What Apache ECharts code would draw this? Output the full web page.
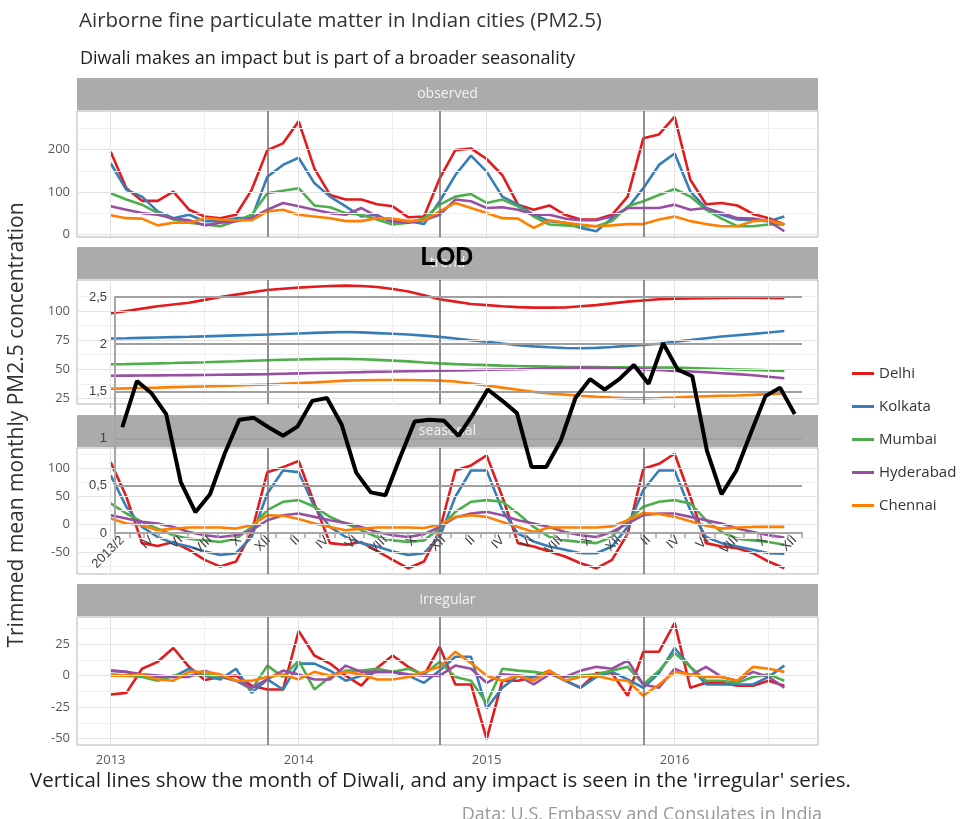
<!DOCTYPE html>
<html><head><meta charset="utf-8">
<script src="https://cdn.jsdelivr.net/npm/echarts@6/dist/echarts.min.js"></script>
<style>html,body{margin:0;padding:0;background:#fff}#c{width:970px;height:819px}</style>
</head><body><div id="c"></div>
<script>
// ---------- DATA ----------
const months = ['2013-01','2013-02','2013-03','2013-04','2013-05','2013-06','2013-07','2013-08','2013-09','2013-10','2013-11','2013-12',
'2014-01','2014-02','2014-03','2014-04','2014-05','2014-06','2014-07','2014-08','2014-09','2014-10','2014-11','2014-12',
'2015-01','2015-02','2015-03','2015-04','2015-05','2015-06','2015-07','2015-08','2015-09','2015-10','2015-11','2015-12',
'2016-01','2016-02','2016-03','2016-04','2016-05','2016-06','2016-07','2016-08'];
const cities = ['Delhi','Kolkata','Mumbai','Hyderabad','Chennai'];
const components = ['observed','trend','seasonal','irregular'];
const diwaliMonths = ['2013-11','2014-10','2015-11'];
const xTickLabels = ['2013','2014','2015','2016'];
const xMinorMonths = ['2013-07','2014-07','2015-07','2016-07'];
const yTicks = {observed:[0,100,200], trend:[25,50,75,100], seasonal:[-50,0,50,100], irregular:[-50,-25,0,25]};
const yMinor = {observed:[50,150,250], trend:[37.5,62.5,87.5,112.5], seasonal:[-75,-25,25,75,125], irregular:[-37.5,-12.5,12.5,37.5]};

const observedDelhi = [195,109,79,79,101,58,42,38,46,105,199,215,267,156,93,82,82,71,66,40,42,132,199,203,178,140,70,58,68,46,35,35,46,89,227,236,278,129,71,74,68,48,38,23];
const observedKolkata = [168,105,89,54,38,46,31,31,38,38,136,164,181,121,89,66,42,46,27,31,24,78,140,186,148,89,70,46,31,27,15,7,38,62,109,164,191,101,62,46,35,33,31,42];
const observedMumbai = [97,82,70,50,35,27,23,19,31,46,97,103,109,68,64,50,46,35,23,27,38,70,89,95,74,82,66,42,23,21,19,19,31,66,78,93,107,89,58,37,19,19,23,23];
const observedHyderabad = [66,58,50,46,38,33,21,27,31,38,58,74,66,58,50,46,62,42,31,27,33,46,82,78,62,64,58,46,46,37,33,33,42,62,62,62,70,58,62,50,38,37,31,7];
const observedChennai = [45,38,37,21,27,27,38,35,33,33,54,58,46,42,38,31,31,38,37,31,33,54,74,62,50,38,37,15,33,27,23,19,21,24,24,35,42,31,24,19,19,31,33,23];

const trendDelhi = [98,100,102,104,105.5,107,109.5,112,114,116,118,119,120,120.8,121.4,121.7,121.4,120.5,118.8,116.7,113.5,110,108,106,105,104,103.3,102.8,102.8,103,104,105,106.5,108,109,110,110.5,110.8,111,111.2,111.3,111.3,111.2,111];
const trendKolkata = [76.4,76.6,76.9,77.2,77.5,77.8,78.2,78.6,79,79.4,79.75,80.2,80.7,81.2,81.6,81.9,81.6,81,80.4,79.75,78.8,77.75,76.3,74.8,73.6,72,70.5,69.6,68.8,68.2,68,68.3,69,70,70.8,71.8,73.6,75,76.5,78,79.2,80.3,81.5,82.75];
const trendMumbai = [54.2,54.4,54.7,55,55.3,55.7,56,56.4,56.8,57.3,57.75,58.1,58.4,58.7,58.9,58.9,58.6,58,57.4,56.7,55.8,55,54.4,53.9,53.5,53.1,52.75,52.5,52.2,52,51.9,51.8,51.7,51.6,51.5,51.5,51.4,51,50.6,50.2,49.8,49.4,49,48.6];
const trendHyderabad = [44.4,44.5,44.6,44.7,44.8,44.9,45,45.2,45.4,45.6,45.8,46.1,46.4,46.7,47,47.25,47.5,47.8,48,48.3,48.5,48.7,48.9,49.2,49.5,49.8,50,50.4,50.8,51.1,51.4,51.3,51,50.6,50,49.4,48.6,48,47.4,46.6,45.8,44.8,43.6,42.25];
const trendChennai = [33.3,33.6,33.9,34.2,34.6,35,35.3,35.7,36.1,36.5,36.9,37.5,38.1,38.7,39.5,40.25,40.5,40.7,40.8,40.8,40.6,40.25,39.5,37.8,36.1,34.2,32.4,30.6,29.3,28.2,27.25,26.4,25.6,25,25,25.3,25.8,26.4,26.8,27.2,27.5,28,28.6,29.2];

const seasonalDelhi = [111,49,-34,-39,-32,-46,-64,-76,-67,-14,93,102,113,37,-34,-37,-32,-48,-64,-79,-67,-11,96,105,123,49,-34,-40,-49,-58,-70,-79,-64,-17,99,108,126,49,-34,-40,-43,-52,-67,-79];
const seasonalKolkata = [87.5,31,-5,-23,-34,-40,-49,-55,-52,-23,55,96,93,31,-5,-23,-34,-40,-49,-55,-52,-23,49,96,96,25,-17,-31,-40,-46,-52,-52,-40,-5,61,96,96,25,-23,-34,-40,-46,-52,-53];
const seasonalMumbai = [37,19,4,-8,-20,-26,-29,-32,-26,-5,25,40,43,31,13,1,-11,-23,-29,-32,-29,-8,22,40,43,40,19,-5,-23,-29,-32,-34,-23,7,31,40,43,37,7,-14,-26,-29,-32,-37];
const seasonalHyderabad = [16,10,4,1,-5,-14,-20,-23,-20,-11,7,16,19,13,7,2,-5,-14,-20,-23,-18,-5,12,19,22,16,7,1,-5,-14,-20,-23,-14,1,16,19,19,13,7,1,-8,-14,-20,-24];
const seasonalChennai = [10,1,-2,-11,-8,-6,-6,-6,-8,-2,16,15,9,1,-5,-11,-8,-6,-6,-6,-7,-1,13,16,13,4,-5,-14,-6,-6,-6,-6,-4,7,20,18,13,5,-3,-8,-6,-5,-5,-5];

const irregularDelhi = [-15,-13.7,5.5,11,22,7,-3.5,-1,0,-8,-11,-11,35.5,16,9.6,0,-8,6,16,7,0,23,-7,-7,-50.5,-4,-4,-1,4,-4,-9.6,2,2,-16,19,19,42,-9.6,-5.7,-5.7,-8,-8,-4,-8];
const irregularKolkata = [4,3,0,-1,-1,5.5,0,-3,5.5,-13.7,-3,-11,9.6,9.6,4,-4,0,3,3,0,-5.7,4,15,15,-26,-9.6,0,-1,2,-4,-9.6,-1,3,-3,-9.6,2,22,7,-7,-7,-7,-7,-1,8];
const irregularMumbai = [1,0,-1,-4,0,0,1,-1,-4,-11,8,-1,12,-11,-1,4,4,5.5,3,5.5,1,11,-1,-4,-22,5.5,4,3,1,-1,0,1,4,7,-7,4,18,7,-4,-4,-5.7,-1,1,-4];
const irregularHyderabad = [4,3,1,0,-1,-1,4,0,-4,-9.6,-3,4,1,-3,-3,8,3,3,3,1,0,0,8,5.5,-5.7,1,0,-7,1,-1,4,7,5.5,12,-7,-9.6,5.5,0,7,-1,-4,3,-1,-9.6];
const irregularChennai = [0,0,1,-3,-4,3,3,1,-4,-4,-1,1,-3,3,0,3,1,-3,-3,-1,3,7,19,10,0,-4,0,-4,4,-4,-1,0,-3,-4,-16,-7,3,1,-1,-1,-4,7,5.5,3];

const lodCategories = ['2013/2','III','IV','V','VI','VII','VIII','IX','X','XI','XII',
'I','II','III','IV','V','VI','VII','VIII','IX','X','XI','XII',
'I','II','III','IV','V','VI','VII','VIII','IX','X','XI','XII',
'I','II','III','IV','V','VI','VII','VIII','IX','X','XI','XII'];
const lodValues = [1.12,1.61,1.48,1.26,0.54,0.22,0.41,0.84,1.2,1.22,1.12,1.03,1.13,1.4,1.43,1.15,0.64,0.43,0.4,0.8,1.18,1.2,1.19,1.03,1.26,1.52,1.4,1.27,0.7,0.7,0.98,1.43,1.63,1.52,1.63,1.78,1.58,2.01,1.73,1.66,0.87,0.41,0.66,1.06,1.45,1.54,1.26];

// ---------- BUILD ----------
const seriesData = {
  observed:[observedDelhi,observedKolkata,observedMumbai,observedHyderabad,observedChennai],
  trend:[trendDelhi,trendKolkata,trendMumbai,trendHyderabad,trendChennai],
  seasonal:[seasonalDelhi,seasonalKolkata,seasonalMumbai,seasonalHyderabad,seasonalChennai],
  irregular:[irregularDelhi,irregularKolkata,irregularMumbai,irregularHyderabad,irregularChennai]
};
const colors = ['#e41a1c','#377eb8','#4daf4a','#984ea3','#ff7f00'];
const layout = [{top:111,height:126},{top:280,height:124},{top:448,height:126},{top:617,height:128}];
const FONT = '"Open Sans", sans-serif';
const idx = m => months.indexOf(m);
const xSpan = months.length - 1;
const xMin = -0.05 * xSpan, xMax = xSpan + 0.05 * xSpan;
const xMajor = xTickLabels.map(y => idx(y + '-01'));

const grids = [], xAxes = [], yAxes = [], series = [], graphics = [];
components.forEach((comp, p) => {
  const L = layout[p];
  grids.push({left:77, right:152, top:L.top, height:L.height, show:true, backgroundColor:'#fff', borderColor:'#b3b3b3', borderWidth:1});
  const all = [].concat(...seriesData[comp]);
  const lo = Math.min(...all), hi = Math.max(...all), pad = 0.05 * (hi - lo);
  const last = p === components.length - 1;
  xAxes.push({type:'value', gridIndex:p, min:xMin, max:xMax, splitLine:{show:false},
    axisLine:{show:false},
    axisTick:{show:true, customValues:xMajor, length:4, lineStyle:{color:'#b3b3b3'}},
    axisLabel:{show:last, customValues:xMajor, formatter:v => xTickLabels[xMajor.indexOf(Math.round(v))] || '', color:'#5a5a5a', fontSize:13, fontFamily:FONT, margin:9}});
  yAxes.push({type:'value', gridIndex:p, min:lo - pad, max:hi + pad, splitLine:{show:false},
    axisLine:{show:false},
    axisTick:{show:true, customValues:yTicks[comp], length:4, lineStyle:{color:'#b3b3b3'}},
    axisLabel:{customValues:yTicks[comp], color:'#5a5a5a', fontSize:13, fontFamily:FONT, margin:7}});
  const gl = [];
  xMajor.forEach(v => gl.push({xAxis:v, lineStyle:{color:'#e3e3e3', width:1, type:'solid'}}));
  xMinorMonths.forEach(m => gl.push({xAxis:idx(m), lineStyle:{color:'#efefef', width:1, type:'solid'}}));
  yTicks[comp].forEach(v => gl.push({yAxis:v, lineStyle:{color:'#e3e3e3', width:1, type:'solid'}}));
  yMinor[comp].forEach(v => { if (v > lo - pad && v < hi + pad) gl.push({yAxis:v, lineStyle:{color:'#efefef', width:1, type:'solid'}}); });
  series.push({type:'line', name:'_grid' + p, xAxisIndex:p, yAxisIndex:p, data:[], z:1, silent:true,
    markLine:{silent:true, symbol:['none','none'], label:{show:false}, animation:false, emphasis:{disabled:true},
      lineStyle:{type:'solid', color:'#e3e3e3', width:1}, data:gl}});
  series.push({type:'line', name:'_diwali' + p, xAxisIndex:p, yAxisIndex:p, data:[], z:2, silent:true,
    markLine:{silent:true, symbol:['none','none'], label:{show:false}, animation:false, emphasis:{disabled:true},
      lineStyle:{color:'#6e6e6e', width:1.5, type:'solid'}, data:diwaliMonths.map(m => ({xAxis:idx(m)}))}});
  seriesData[comp].forEach((vals, c) => {
    series.push({type:'line', name:cities[c], xAxisIndex:p, yAxisIndex:p, z:3,
      data:vals.map((v, i) => [i, v]), showSymbol:false, symbol:'none', color:colors[c],
      lineStyle:{width:2.6, color:colors[c]}, emphasis:{disabled:true}, silent:true});
  });
  graphics.push({type:'rect', z:1, shape:{x:77, y:L.top - 33, width:741, height:32}, style:{fill:'#ababab'}});
  graphics.push({type:'text', z:2, x:447.5, y:L.top - 17, style:{text:comp, fill:'#f2f2f2', font:'14px ' + FONT, textAlign:'center', textVerticalAlign:'middle'}});
});

// LOD overlay grid
grids.push({left:115, width:687, top:297, height:236, show:false});
xAxes.push({type:'category', gridIndex:4, data:lodCategories, boundaryGap:true, z:10,
  axisLine:{show:true, lineStyle:{color:'#a6a6a6', width:2}},
  axisTick:{show:true, interval:0, length:5, lineStyle:{color:'#a6a6a6', width:1.5}},
  axisLabel:{interval:1, rotate:45, color:'#404040', fontSize:13, fontFamily:'"Liberation Sans", sans-serif', margin:5},
  splitLine:{show:false}});
yAxes.push({type:'value', gridIndex:4, min:0, max:2.5, interval:0.5, z:10,
  axisLine:{show:true, lineStyle:{color:'#a6a6a6', width:2}},
  axisTick:{show:false},
  axisLabel:{formatter:v => String(v).replace('.', ','), color:'#404040', fontSize:13, fontFamily:'"Liberation Sans", sans-serif', margin:8},
  splitLine:{show:true, lineStyle:{color:'#a0a0a0', width:2}}});
series.push({type:'line', name:'LOD', xAxisIndex:4, yAxisIndex:4, z:10, data:lodValues,
  showSymbol:false, symbol:'none', color:'#000', lineStyle:{width:4, color:'#000'}, silent:true, emphasis:{disabled:true}});

// texts
graphics.push({type:'text', z:20, x:447, y:258, style:{text:'LOD', fill:'#000', font:'bold 25px "Liberation Sans", sans-serif', textAlign:'center', textVerticalAlign:'middle'}});
graphics.push({type:'text', z:5, x:17, y:425, rotation:Math.PI/2, style:{text:'Trimmed mean monthly PM2.5 concentration', fill:'#333', font:'21px ' + FONT, textAlign:'center', textVerticalAlign:'middle'}});
graphics.push({type:'text', z:5, x:30, y:781, style:{text:"Vertical lines show the month of Diwali, and any impact is seen in the 'irregular' series.", fill:'#222', font:'20.5px ' + FONT, textAlign:'left', textVerticalAlign:'middle'}});
graphics.push({type:'text', z:5, x:822, y:815, style:{text:'Data: U.S. Embassy and Consulates in India', fill:'#999', font:'18px ' + FONT, textAlign:'right', textVerticalAlign:'middle'}});

const chart = echarts.init(document.getElementById('c'));
chart.setOption({
  animation:false,
  backgroundColor:'#fff',
  title:[
    {text:'Airborne fine particulate matter in Indian cities (PM2.5)', left:74, top:6, textStyle:{fontSize:20.5, fontWeight:'normal', color:'#333', fontFamily:FONT}},
    {text:'Diwali makes an impact but is part of a broader seasonality', left:75, top:45, textStyle:{fontSize:18, fontWeight:'normal', color:'#222', fontFamily:FONT}}
  ],
  legend:{data:cities, orient:'vertical', left:847, top:361, icon:'rect', itemWidth:22, itemHeight:3, itemGap:18,
    textStyle:{fontSize:15, color:'#333', fontFamily:FONT}, selectedMode:false},
  grid:grids, xAxis:xAxes, yAxis:yAxes, series:series,
  graphic:{elements:graphics}
});
</script></body></html>
